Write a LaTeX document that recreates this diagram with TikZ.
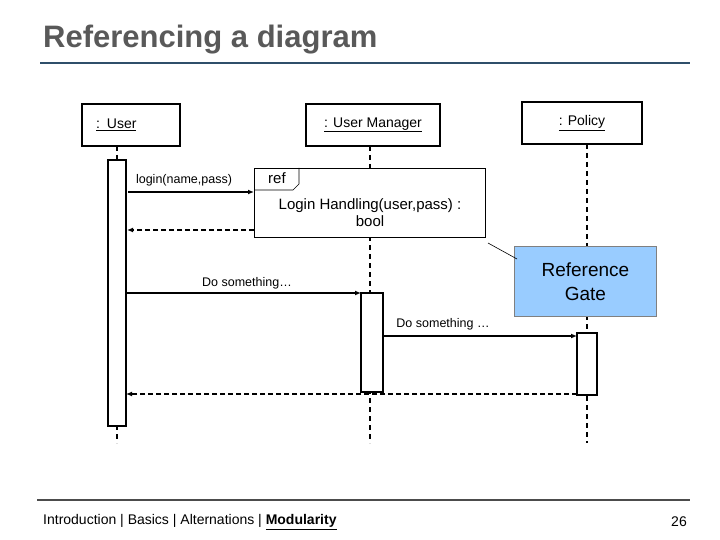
\documentclass[tikz,border=0pt]{standalone}
\usepackage{fontspec}
\setmainfont{Liberation Sans}
\usetikzlibrary{arrows.meta}
\definecolor{rule}{HTML}{2F4F6A}
\definecolor{gatefill}{HTML}{99CCFF}
\begin{document}
\begin{tikzpicture}[x=1pt,y=-1pt,
  obj/.style={draw,line width=1.6pt,inner sep=0pt,font=\fontsize{14}{16}\selectfont},
  act/.style={draw,line width=1.6pt,fill=white},
  life/.style={line width=1.6pt,dash pattern=on 5pt off 4pt},
  msg/.style={line width=1.6pt,-{Latex[length=6pt,width=5pt]}},
  ret/.style={line width=1.6pt,dash pattern=on 5pt off 3pt,-{Latex[length=6pt,width=5pt]}},
  lbl/.style={font=\fontsize{12.5}{14}\selectfont,inner sep=0pt}]
\useasboundingbox (0,0) rectangle (720,540);
\node[anchor=west,font=\bfseries\fontsize{31}{34}\selectfont,text=black!65,inner sep=0pt] (title) at (43,40) {Referencing a diagram};
\draw[line width=1.5pt,color=rule] (40,63) -- (690,63);
% lifelines
\draw[life] (117,146) -- (117,443);
\draw[life] (370,146) -- (370,443);
\draw[life] (587,144) -- (587,443);
% objects
\node[obj,minimum width=98pt,minimum height=42pt,fill=white,text width=80pt,align=left] (user) at (131,125) {\hspace*{5pt}\underline{: User}};
\node[obj,minimum width=134pt,minimum height=42pt,fill=white] (um) at (373,125) {\underline{: User Manager}};
\node[obj,minimum width=120pt,minimum height=42pt,fill=white] (pol) at (582,123) {\underline{: Policy}};
% activations
\draw[act] (108,160) rectangle (126,426);
\draw[act] (361,293) rectangle (383,392);
\draw[act] (577,333) rectangle (597,395);
% ref frame
\node[draw,line width=0.6pt,fill=white,minimum width=231pt,minimum height=69pt,anchor=north west] (ref) at (254,168) {};
\draw[line width=0.6pt] (254,190) -- (293,190) -- (299,184) -- (299,168);
\node[font=\fontsize{15}{16}\selectfont,anchor=west,inner sep=0pt] (reft) at (268,178) {ref};
\node[font=\fontsize{15}{17}\selectfont,align=center] (refb) at (370,213) {Login Handling(user,pass) :\\bool};
% messages
\coordinate (l1) at (128,192); \coordinate (l2) at (254,192);
\draw[msg] (l1) -- (l2);
\node[lbl] (lt) at (184,180) {login(name,pass)};
\coordinate (r1) at (254,230); \coordinate (r2) at (127,230);
\draw[ret] (r1) -- (r2);
\coordinate (d1) at (126,293); \coordinate (d2) at (361,293);
\draw[msg] (d1) -- (d2);
\node[lbl] (dt) at (247,283) {Do something\dots};
\coordinate (e1) at (383,336); \coordinate (e2) at (577,336);
\draw[msg] (e1) -- (e2);
\node[lbl] (et) at (443,324) {Do something \dots};
\coordinate (f1) at (577,394); \coordinate (f2) at (126,394);
\draw[ret] (f1) -- (f2);
% callout
\node[draw=black!50,fill=gatefill,line width=0.8pt,minimum width=142pt,minimum height=70pt,anchor=north west,align=center,font=\fontsize{19}{24}\selectfont] (gate) at (514,246) {Reference\\Gate};
\coordinate (c1) at (488,243);
\draw[line width=0.6pt] (c1) -- (517,259);
% footer
\draw[line width=1.2pt,color=black!70] (37,500) -- (690,500);
\node[anchor=west,font=\fontsize{14}{16}\selectfont,inner sep=0pt] (foot) at (43,522) {Introduction | Basics | Alternations | \textbf{\underline{Modularity}}};
\node[anchor=east,font=\fontsize{14}{16}\selectfont,inner sep=0pt] (pg) at (687,522) {26};
\end{tikzpicture}
\end{document}
